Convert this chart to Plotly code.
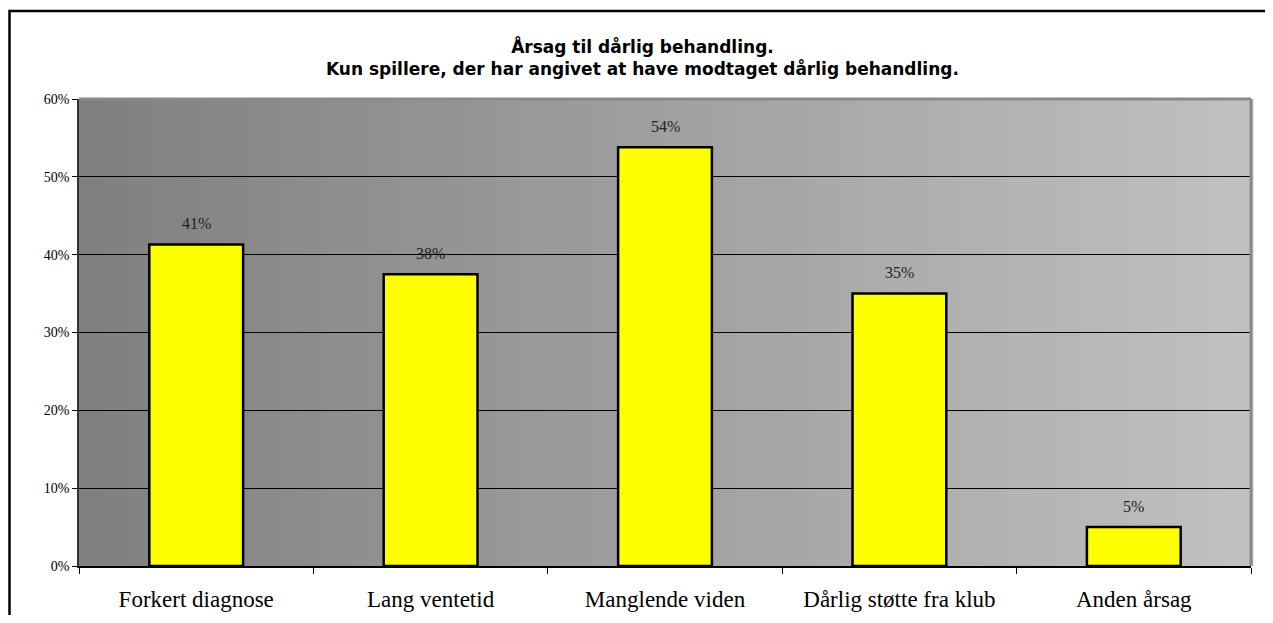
import plotly.graph_objects as go

# Data
categories = ["Forkert diagnose", "Lang ventetid", "Manglende viden",
              "Dårlig støtte fra klub", "Anden årsag"]
values = [0.413, 0.375, 0.538, 0.35, 0.05]
y_ticks = [0, 0.1, 0.2, 0.3, 0.4, 0.5, 0.6]
y_tick_labels = ["0%", "10%", "20%", "30%", "40%", "50%", "60%"]

serif = "Liberation Serif, DejaVu Serif, serif"

# page is drawn with an 8px body margin, so everything is offset by 8px
W, H = 1257, 607
L, T, R, B = 71, 91, 14, 49
PW, PH = W - L - R, H - T - B

fig = go.Figure()
fig.add_trace(go.Bar(
    x=categories, y=values, width=0.4,
    marker=dict(color="#ffff00", line=dict(color="black", width=2.5)),
    hoverinfo="skip",
))

# gradient background made of thin vertical stripes
n_steps = 48
shapes = []
for i in range(n_steps):
    t = i / (n_steps - 1)
    g = int(round(128 + (192 - 128) * t))
    shapes.append(dict(type="rect", xref="x domain", yref="y domain",
                       x0=i / n_steps, x1=(i + 1) / n_steps + 0.002, y0=0, y1=1,
                       fillcolor=f"rgb({g},{g},{g})", line=dict(width=0),
                       layer="below"))
# plot area border (top/right gray)
shapes.append(dict(type="line", xref="x domain", yref="y domain",
                   x0=0, x1=1, y0=1, y1=1, line=dict(color="#8a8a8a", width=3)))
shapes.append(dict(type="line", xref="x domain", yref="y domain",
                   x0=1, x1=1, y0=0, y1=1, line=dict(color="#8a8a8a", width=3)))
# outer chart border (runs off the right and bottom)
shapes.append(dict(type="rect", xref="paper", yref="paper",
                   x0=(1.5 - L) / PW, x1=(W + 20 - L) / PW,
                   y0=-(B + 20) / PH, y1=(PH + T - 3) / PH,
                   line=dict(color="black", width=2.5), fillcolor="rgba(0,0,0,0)"))

annotations = []
for c, v in zip(categories, values):
    annotations.append(dict(x=c, y=v, text=f"{v * 100:.0f}%", showarrow=False,
                            yshift=21, font=dict(family=serif, size=16, color="#222")))
annotations.append(dict(
    xref="paper", yref="paper", x=(634 - L) / PW, y=(PH + T - 49) / PH,
    text="<b>Årsag til dårlig behandling.</b><br><b>Kun spillere, der har angivet at have modtaget dårlig behandling.</b>",
    showarrow=False, xanchor="center", yanchor="middle",
    font=dict(family="DejaVu Sans, sans-serif", size=17, color="black"),
    align="center"))

fig.update_layout(
    width=W, height=H,
    margin=dict(l=L, r=R, t=T, b=B),
    paper_bgcolor="white", plot_bgcolor="rgba(0,0,0,0)",
    showlegend=False, bargap=0.6,
    shapes=shapes, annotations=annotations,
)
fig.update_xaxes(
    showline=True, linecolor="black", linewidth=1.5,
    ticks="outside", tickson="boundaries", ticklen=6, tickcolor="black",
    tickfont=dict(family=serif, size=23, color="black"),
    ticklabelstandoff=12, automargin=False,
    showgrid=False,
)
fig.update_yaxes(
    range=[0, 0.6], tickvals=y_ticks, ticktext=y_tick_labels,
    showline=True, linecolor="#333", linewidth=1.5,
    ticks="outside", ticklen=5, tickcolor="black",
    tickfont=dict(family=serif, size=14, color="black"),
    showgrid=True, gridcolor="black", gridwidth=1, zeroline=False,
    automargin=False,
)

fig.write_html("out.html")
